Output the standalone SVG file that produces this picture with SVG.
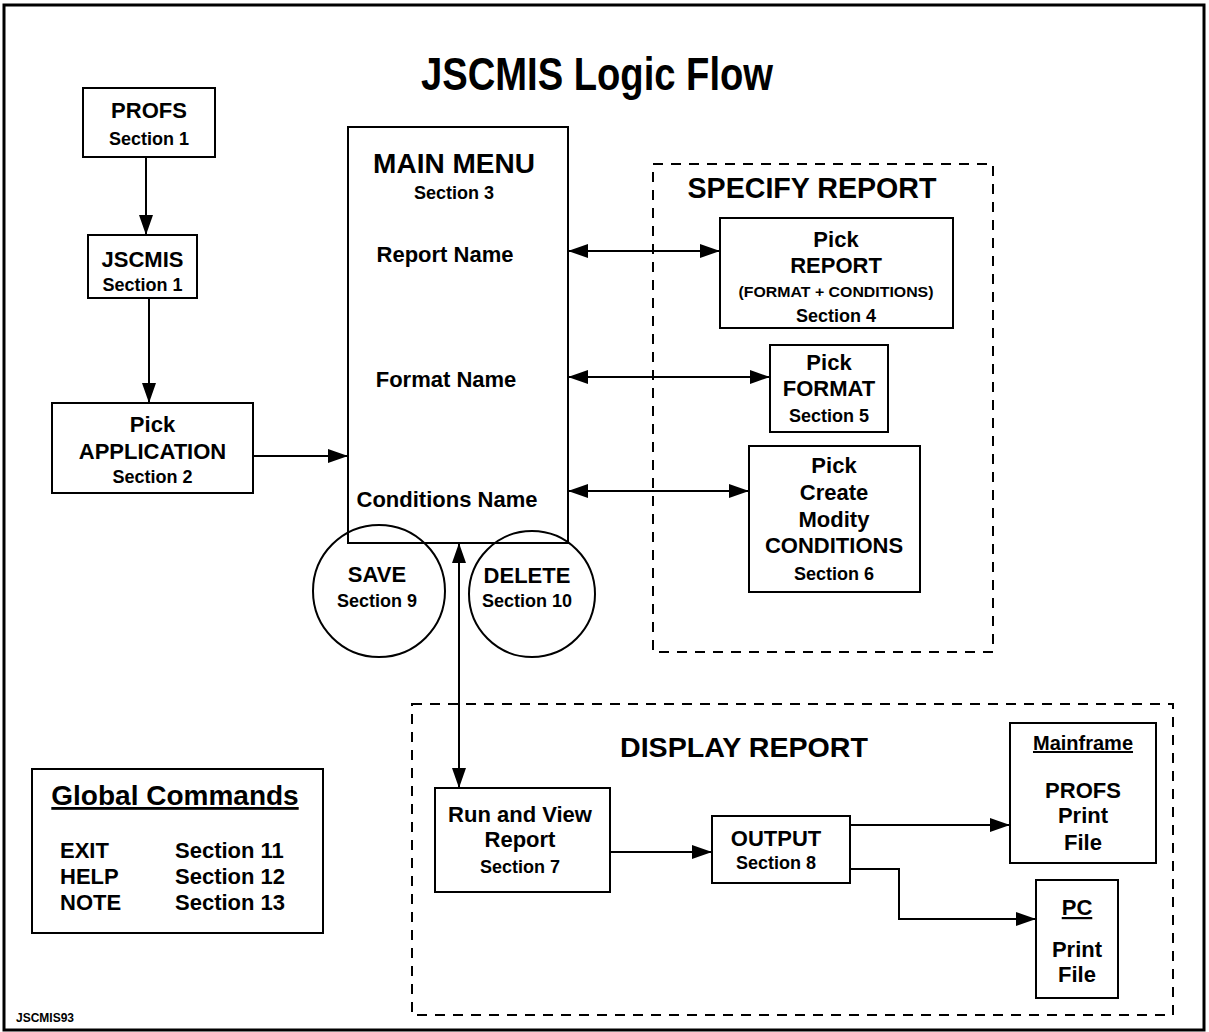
<svg xmlns="http://www.w3.org/2000/svg" width="1209" height="1032" viewBox="0 0 1209 1032">
<style>
  .bg { fill: #ffffff; }
  .frame { fill: none; stroke: #000; stroke-width: 3; }
  .box { fill: #ffffff; stroke: #000; stroke-width: 2; }
  .circ { fill: none; stroke: #000; stroke-width: 2; }
  .dash { fill: none; stroke: #000; stroke-width: 2; stroke-dasharray: 10 8; }
  .ln { fill: none; stroke: #000; stroke-width: 2; }
  text { font-family: "Liberation Sans", Arial, Helvetica, sans-serif; font-weight: bold; fill: #000; }
  .c { text-anchor: middle; }
  .m { font-size: 22px; }
  .s { font-size: 18px; }
  .u { text-decoration: underline; }
</style>
<defs>
  <marker id="ah" viewBox="0 0 20 14" refX="20" refY="7" markerWidth="20" markerHeight="14" markerUnits="userSpaceOnUse" orient="auto-start-reverse">
    <path d="M0,0 L20,7 L0,14 Z" fill="#000"/>
  </marker>
</defs>
<rect class="bg" x="0" y="0" width="1209" height="1032"/>
<rect class="frame" x="4" y="5" width="1200" height="1025"/>
<text id="title" class="c" x="597" y="90" font-size="47" textLength="352" lengthAdjust="spacingAndGlyphs">JSCMIS Logic Flow</text>

<g id="specify-report">
  <rect class="dash" x="653" y="164" width="340" height="488"/>
  <text class="c" x="812" y="198" font-size="29" textLength="249" lengthAdjust="spacingAndGlyphs">SPECIFY REPORT</text>
</g>
<g id="display-report">
  <rect class="dash" x="412" y="704" width="761" height="311"/>
  <text class="c" x="744" y="757" font-size="28" textLength="248" lengthAdjust="spacingAndGlyphs">DISPLAY REPORT</text>
</g>

<g id="connectors">
  <line class="ln" x1="146" y1="157" x2="146" y2="235" marker-end="url(#ah)"/>
  <line class="ln" x1="149" y1="298" x2="149" y2="403" marker-end="url(#ah)"/>
  <line class="ln" x1="253" y1="456" x2="348" y2="456" marker-end="url(#ah)"/>
  <line class="ln" x1="568" y1="251" x2="720" y2="251" marker-start="url(#ah)" marker-end="url(#ah)"/>
  <line class="ln" x1="568" y1="377" x2="770" y2="377" marker-start="url(#ah)" marker-end="url(#ah)"/>
  <line class="ln" x1="568" y1="491" x2="749" y2="491" marker-start="url(#ah)" marker-end="url(#ah)"/>
  <line class="ln" x1="459" y1="543" x2="459" y2="788" marker-start="url(#ah)" marker-end="url(#ah)"/>
  <line class="ln" x1="610" y1="852" x2="712" y2="852" marker-end="url(#ah)"/>
  <line class="ln" x1="850" y1="825" x2="1010" y2="825" marker-end="url(#ah)"/>
  <path class="ln" d="M850,869 H899 V919 H1036" marker-end="url(#ah)"/>
</g>

<g id="profs">
  <rect class="box" x="83" y="88" width="132" height="69"/>
  <text class="c m" x="149" y="118">PROFS</text>
  <text class="c s" x="149" y="145">Section 1</text>
</g>
<g id="jscmis">
  <rect class="box" x="88" y="235" width="109" height="63"/>
  <text class="c m" x="142.5" y="267">JSCMIS</text>
  <text class="c s" x="142.5" y="291">Section 1</text>
</g>
<g id="pick-application">
  <rect class="box" x="52" y="403" width="201" height="90"/>
  <text class="c m" x="152.5" y="432">Pick</text>
  <text class="c m" x="152.5" y="459">APPLICATION</text>
  <text class="c s" x="152.5" y="483">Section 2</text>
</g>
<g id="main-menu">
  <rect x="348" y="127" width="220" height="416" style="fill:none;stroke:#000;stroke-width:2"/>
  <text class="c" x="454" y="173" font-size="28">MAIN MENU</text>
  <text class="c s" x="454" y="199">Section 3</text>
  <text class="c m" x="445" y="262">Report Name</text>
  <text class="c m" x="446" y="387">Format Name</text>
  <text class="c m" x="447" y="507">Conditions Name</text>
</g>
<g id="save">
  <circle class="circ" cx="379" cy="591" r="66"/>
  <text class="c m" x="377" y="582">SAVE</text>
  <text class="c s" x="377" y="607">Section 9</text>
</g>
<g id="delete">
  <circle class="circ" cx="532" cy="594" r="63"/>
  <text class="c m" x="527" y="583">DELETE</text>
  <text class="c s" x="527" y="607">Section 10</text>
</g>
<g id="pick-report">
  <rect class="box" x="720" y="218" width="233" height="110"/>
  <text class="c m" x="836" y="247">Pick</text>
  <text class="c m" x="836" y="273">REPORT</text>
  <text class="c" x="836" y="297" font-size="15" textLength="195" lengthAdjust="spacingAndGlyphs">(FORMAT + CONDITIONS)</text>
  <text class="c s" x="836" y="322">Section 4</text>
</g>
<g id="pick-format">
  <rect class="box" x="770" y="345" width="118" height="87"/>
  <text class="c m" x="829" y="370">Pick</text>
  <text class="c m" x="829" y="396">FORMAT</text>
  <text class="c s" x="829" y="422">Section 5</text>
</g>
<g id="pick-conditions">
  <rect class="box" x="749" y="446" width="171" height="146"/>
  <text class="c m" x="834" y="473">Pick</text>
  <text class="c m" x="834" y="500">Create</text>
  <text class="c m" x="834" y="527">Modity</text>
  <text class="c m" x="834" y="553">CONDITIONS</text>
  <text class="c s" x="834" y="580">Section 6</text>
</g>
<g id="run-view">
  <rect class="box" x="435" y="788" width="175" height="104"/>
  <text class="c m" x="520" y="822">Run and View</text>
  <text class="c m" x="520" y="847">Report</text>
  <text class="c s" x="520" y="873">Section 7</text>
</g>
<g id="output">
  <rect class="box" x="712" y="816" width="138" height="67"/>
  <text class="c m" x="776" y="846">OUTPUT</text>
  <text class="c s" x="776" y="869">Section 8</text>
</g>
<g id="mainframe">
  <rect class="box" x="1010" y="723" width="146" height="140"/>
  <text class="c u" x="1083" y="750" font-size="20">Mainframe</text>
  <text class="c m" x="1083" y="798">PROFS</text>
  <text class="c m" x="1083" y="823">Print</text>
  <text class="c m" x="1083" y="850">File</text>
</g>
<g id="pc">
  <rect class="box" x="1036" y="880" width="82" height="118"/>
  <text class="c m u" x="1077" y="915">PC</text>
  <text class="c m" x="1077" y="957">Print</text>
  <text class="c m" x="1077" y="982">File</text>
</g>
<g id="global-commands">
  <rect class="box" x="32" y="769" width="291" height="164"/>
  <text class="c u" x="175" y="805" font-size="28">Global Commands</text>
  <text class="m" x="60" y="858">EXIT</text>
  <text class="m" x="60" y="884">HELP</text>
  <text class="m" x="60" y="910">NOTE</text>
  <text class="m" x="175" y="858">Section 11</text>
  <text class="m" x="175" y="884">Section 12</text>
  <text class="m" x="175" y="910">Section 13</text>
</g>
<text id="jscmis93" x="16" y="1022" font-size="12">JSCMIS93</text>
</svg>
